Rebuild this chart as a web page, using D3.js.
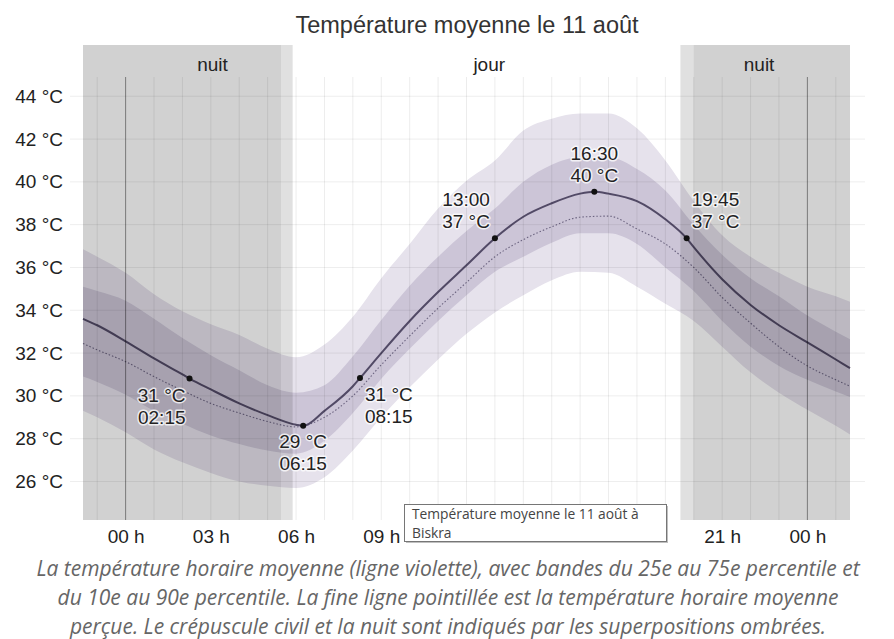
<!DOCTYPE html>
<html>
<head>
<meta charset="utf-8">
<script src="https://cdn.jsdelivr.net/npm/d3@7"></script>
<style>
  body { margin: 0; background: #fff; }
  svg { display: block; }
</style>
</head>
<body>
<svg id="chart" width="894" height="639"></svg>
<script>
// Hour of day (previous evening and next night included at the edges)
const hours = [-1.5, -1, 0, 1, 2, 3, 4, 5, 6, 7, 8, 9, 10, 11, 12, 13, 14, 15, 16, 17, 18, 19, 20, 21, 22, 23, 24, 25, 25.5];

// Percentile bands (°C)
const tempP10 = [29.3, 29.0, 28.3, 27.5, 26.9, 26.4, 26.0, 25.8, 25.7, 26.2, 27.45, 29.0, 30.4, 31.7, 32.9, 33.9, 34.7, 35.4, 35.8, 35.75, 35.1, 34.3, 33.5, 32.3, 31.1, 30.15, 29.35, 28.6, 28.2];
const tempP25 = [30.9, 30.65, 30.05, 29.3, 28.7, 28.15, 27.75, 27.45, 27.3, 27.9, 29.2, 30.8, 32.2, 33.5, 34.7, 35.8, 36.5, 37.15, 37.6, 37.6, 37.1, 36.0, 34.9, 33.5, 32.3, 31.4, 30.75, 30.2, 29.95];
const tempP75 = [35.1, 34.9, 34.45, 33.6, 32.7, 31.9, 31.2, 30.5, 30.15, 30.5, 31.85, 33.55, 35.15, 36.5, 37.7, 38.75, 40.0, 40.8, 41.15, 41.15, 40.6, 39.6, 38.0, 36.6, 35.5, 34.65, 33.75, 33.0, 32.65];
const tempP90 = [36.85, 36.5, 35.75, 34.75, 33.95, 33.35, 32.85, 32.2, 31.8, 32.4, 33.7, 35.5, 37.1, 38.75, 40.05, 41.0, 42.4, 42.95, 43.2, 43.2, 42.5, 41.0, 39.1, 37.5, 36.5, 35.75, 35.1, 34.65, 34.4];

// Mean hourly temperature and perceived temperature (°C)
const tempMean = [33.6, 33.3, 32.55, 31.75, 31.0, 30.3, 29.65, 29.1, 28.65, 29.3, 30.45, 32.0, 33.5, 34.85, 36.1, 37.36, 38.37, 39.0, 39.45, 39.45, 39.1, 38.25, 36.95, 35.45, 34.25, 33.3, 32.5, 31.7, 31.3];
const tempPerceived = [32.45, 32.15, 31.6, 30.9, 30.25, 29.65, 29.2, 28.8, 28.55, 29.0, 30.0, 31.45, 32.8, 34.1, 35.3, 36.5, 37.3, 37.9, 38.35, 38.4, 37.8, 37.1, 36.0, 34.6, 33.4, 32.3, 31.4, 30.75, 30.45];

// Annotated points on the mean curve
const keyTimes = [2.25, 6.25, 8.25, 13.0, 16.5, 19.75];
const keyTemps = [30.81, 28.6, 30.83, 37.36, 39.54, 37.36];
const keyLabels = ["02:15", "06:15", "08:15", "13:00", "16:30", "19:45"];

// Axes (hour labels hidden behind the tooltip are not drawn)
const yTicks = [26, 28, 30, 32, 34, 36, 38, 40, 42, 44];
const xTicks = [0, 3, 6, 9, 21, 24];
const xTickLabels = ["00 h", "03 h", "06 h", "09 h", "21 h", "00 h"];

// Civil twilight and night (decimal hours)
const nightEnds = 5.47, sunrise = 5.88, sunset = 19.53, nightStarts = 20.0;
const periodLabels = ["nuit", "jour", "nuit"];
const periodLabelHours = [3.06, 12.8, 22.3];

const titleText = "Température moyenne le 11 août";
const tooltipLines = ["Température moyenne le 11 août à", "Biskra"];
const captionLines = [
  "La température horaire moyenne (ligne violette), avec bandes du 25e au 75e percentile et",
  "du 10e au 90e percentile. La fine ligne pointillée est la température horaire moyenne",
  "perçue. Le crépuscule civil et la nuit sont indiqués par les superpositions ombrées."
];

const svg = d3.select("#chart");
const sans = "'Liberation Sans', Arial, sans-serif";
const plot = { left: 83, right: 850, top: 77, bottom: 520, header: 45 };

const x = d3.scaleLinear().domain([-1.5, 25.5]).range([plot.left, plot.right]);
const y = d3.scaleLinear().domain([24.2, 44.9]).range([plot.bottom, plot.top]);

// Title
svg.append("text")
  .attr("x", 467).attr("y", 33)
  .attr("text-anchor", "middle")
  .attr("font-family", sans).attr("font-size", 23.5).attr("fill", "#333")
  .text(titleText);

// Percentile bands
const rows = hours.map((h, i) => ({ h, p10: tempP10[i], p25: tempP25[i], p75: tempP75[i], p90: tempP90[i], mean: tempMean[i], perc: tempPerceived[i] }));
const curve = d3.curveMonotoneX;
const area = (lo, hi) => d3.area().x(d => x(d.h)).y0(d => y(d[lo])).y1(d => y(d[hi])).curve(curve);

svg.append("path").datum(rows).attr("d", area("p10", "p90")).attr("fill", "#e6e2ec");
svg.append("path").datum(rows).attr("d", area("p25", "p75")).attr("fill", "#ccc5d7");

// Perceived temperature (dotted)
svg.append("path").datum(rows)
  .attr("d", d3.line().x(d => x(d.h)).y(d => y(d.perc)).curve(curve))
  .attr("fill", "none").attr("stroke", "#6c6480").attr("stroke-width", 1.1)
  .attr("stroke-dasharray", "1.5,2");

// Mean temperature line, passing through the annotated points
const meanPts = rows.map(d => ({ h: d.h, t: d.mean }))
  .concat(keyTimes.map((h, i) => ({ h, t: keyTemps[i] })))
  .sort((a, b) => a.h - b.h);
svg.append("path").datum(meanPts)
  .attr("d", d3.line().x(d => x(d.h)).y(d => y(d.t)).curve(curve))
  .attr("fill", "none").attr("stroke", "#524a66").attr("stroke-width", 2);

// Twilight and night overlays
const shade = svg.append("g");
[[-1.5, sunrise], [sunset, 25.5]].forEach(([a, b]) => {
  shade.append("rect").attr("x", x(a)).attr("width", x(b) - x(a))
    .attr("y", plot.header).attr("height", plot.bottom - plot.header)
    .attr("fill", "rgba(0,0,0,0.12)");
});
[[-1.5, nightEnds], [nightStarts, 25.5]].forEach(([a, b]) => {
  shade.append("rect").attr("x", x(a)).attr("width", x(b) - x(a))
    .attr("y", plot.header).attr("height", plot.bottom - plot.header)
    .attr("fill", "rgba(0,0,0,0.065)");
});

// Grid
const grid = svg.append("g");
grid.selectAll("line.h").data(yTicks).join("line")
  .attr("x1", 70).attr("x2", 865)
  .attr("y1", d => y(d)).attr("y2", d => y(d))
  .attr("stroke", "rgba(0,0,0,0.07)").attr("stroke-width", 1);
grid.selectAll("line.v").data(d3.range(-1, 26)).join("line")
  .attr("x1", d => x(d)).attr("x2", d => x(d))
  .attr("y1", plot.top).attr("y2", plot.bottom)
  .attr("stroke", d => (d % 24 === 0 ? "rgba(0,0,0,0.42)" : "rgba(0,0,0,0.075)"))
  .attr("stroke-width", 1);

// Period labels
svg.selectAll("text.period").data(periodLabels).join("text")
  .attr("x", (d, i) => x(periodLabelHours[i])).attr("y", 71)
  .attr("text-anchor", "middle")
  .attr("font-family", sans).attr("font-size", 19).attr("fill", "#222")
  .text(d => d);

// Y axis
const yAxis = svg.append("g").attr("transform", "translate(63,0)")
  .call(d3.axisLeft(y).tickValues(yTicks).tickSize(0).tickPadding(0).tickFormat(d => d + " °C"));
yAxis.select(".domain").remove();
yAxis.selectAll("text").attr("font-family", sans).attr("font-size", 19).attr("fill", "#222");

// X axis
const xAxis = svg.append("g").attr("transform", "translate(0,529)")
  .call(d3.axisBottom(x).tickValues(xTicks).tickSize(0).tickPadding(0).tickFormat((d, i) => xTickLabels[i]));
xAxis.select(".domain").remove();
xAxis.selectAll("text").attr("font-family", sans).attr("font-size", 19).attr("fill", "#222");

// Annotated points
svg.selectAll("circle.key").data(keyTimes).join("circle")
  .attr("cx", d => x(d)).attr("cy", (d, i) => y(keyTemps[i]))
  .attr("r", 3).attr("fill", "#111");

// Label placement for each point: [dx, dy of first line, anchor, time first?]
const placement = [
  [-4, 23, "end", false],
  [0, 22, "middle", false],
  [5, 23, "start", false],
  [-5, -32, "end", true],
  [0, -32, "middle", true],
  [5, -32, "start", true]
];
keyTimes.forEach((h, i) => {
  const [dx, dy, anchor, timeFirst] = placement[i];
  const tempStr = Math.round(keyTemps[i]) + " °C";
  const lines = timeFirst ? [keyLabels[i], tempStr] : [tempStr, keyLabels[i]];
  const t = svg.append("text")
    .attr("text-anchor", anchor)
    .attr("font-family", sans).attr("font-size", 19).attr("fill", "#222")
    .attr("stroke", "rgba(255,255,255,0.75)").attr("stroke-width", 3)
    .attr("paint-order", "stroke").attr("stroke-linejoin", "round");
  lines.forEach((s, k) => {
    t.append("tspan").attr("x", x(h) + dx).attr("y", y(keyTemps[i]) + dy + k * 22).text(s);
  });
});

// Tooltip box
const tip = svg.append("g").attr("transform", "translate(404,504)");
tip.append("rect").attr("x", 2).attr("y", 2).attr("width", 262).attr("height", 37).attr("fill", "rgba(0,0,0,0.25)");
tip.append("rect").attr("x", 0.5).attr("y", 0.5).attr("width", 262).attr("height", 37)
  .attr("fill", "#fff").attr("stroke", "#767676");
const tipText = tip.append("text")
  .attr("font-family", "'Open Sans', 'Noto Sans', sans-serif").attr("font-size", 13.8).attr("fill", "#444");
tooltipLines.forEach((s, k) => {
  tipText.append("tspan").attr("x", 8).attr("y", 14.5 + k * 19).text(s);
});

// Caption
svg.selectAll("text.caption").data(captionLines).join("text")
  .attr("x", 448).attr("y", (d, i) => 576 + i * 29)
  .attr("text-anchor", "middle")
  .attr("font-family", "'Open Sans', sans-serif").attr("font-style", "italic")
  .attr("font-size", 21).attr("fill", "#666")
  .text(d => d);
</script>
</body>
</html>
